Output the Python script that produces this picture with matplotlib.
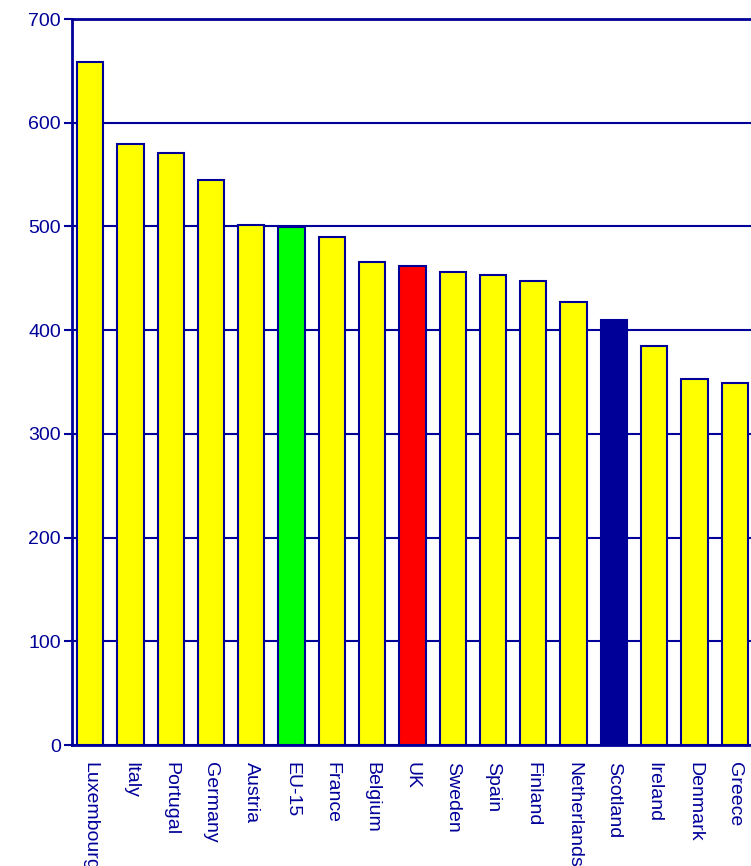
import numpy as np
import matplotlib
matplotlib.use("Agg")
import matplotlib.pyplot as plt

plt.rcParams['font.family'] = ['Liberation Sans', 'DejaVu Sans']

countries = ["Luxembourg", "Italy", "Portugal", "Germany", "Austria", "EU-15",
             "France", "Belgium", "UK", "Sweden", "Spain", "Finland",
             "Netherlands", "Scotland", "Ireland", "Denmark", "Greece"]
values = [659, 579, 571, 545, 501, 499, 490, 466, 462, 456, 453, 447,
          427, 410, 385, 353, 349]
highlight = {"EU-15": "#00ff00", "UK": "#ff0000", "Scotland": "#000099"}

navy = "#000099"
colors = [highlight.get(c, "#ffff00") for c in countries]
x = np.arange(len(countries))

fig = plt.figure(figsize=(7.51, 8.66), dpi=100)
# axes run past the right edge of the figure, like the cropped original
ax = fig.add_axes([72 / 751, 1 - 745 / 866, 703 / 751, 726 / 866])

ax.bar(x, values, width=0.65, color=colors, edgecolor=navy, linewidth=1.5, zorder=3)

ax.set_xlim(-0.45, 17.0)
ax.set_ylim(0, 700)
ax.set_yticks(range(0, 701, 100))
ax.yaxis.grid(True, color=navy, linewidth=1.5, zorder=0)
ax.set_axisbelow(True)

ax.set_xticks(x)
ax.set_xticklabels(countries, rotation=270, ha="center", va="top")
ax.tick_params(axis="x", length=0, pad=12, labelsize=14, labelcolor=navy)
ax.tick_params(axis="y", length=6, width=1.5, color=navy, direction="out",
               labelsize=14, labelcolor=navy, pad=2)

for side in ["left", "bottom", "top", "right"]:
    ax.spines[side].set_color(navy)
    ax.spines[side].set_linewidth(2)

fig.savefig("out.png", dpi=100)
